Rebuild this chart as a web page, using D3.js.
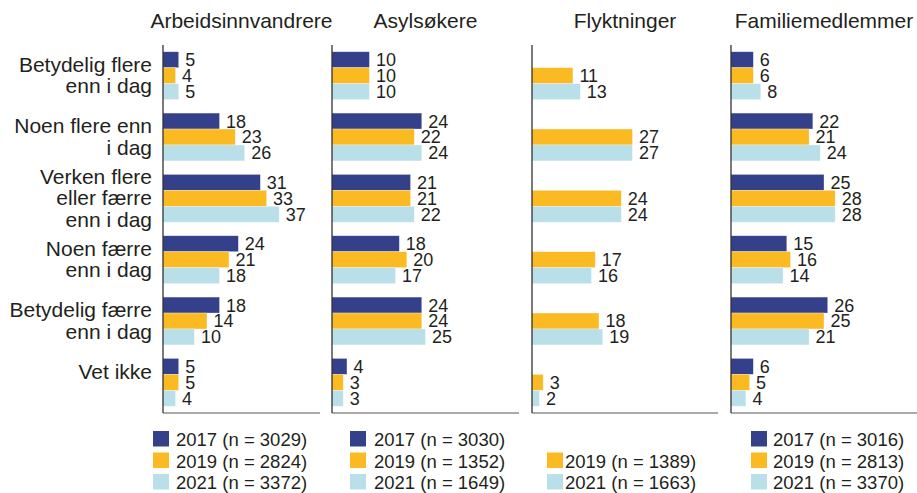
<!DOCTYPE html>
<html>
<head>
<meta charset="utf-8">
<script src="https://cdn.jsdelivr.net/npm/d3@7"></script>
<style>
  body { margin: 0; background: #fff; }
  text { font-family: "Liberation Sans", Arial, sans-serif; fill: #231f20; }
</style>
</head>
<body>
<script>
// Kategorier (svaralternativer), "\n" gir linjeskift
var categories = [
  "Betydelig flere\nenn i dag",
  "Noen flere enn\ni dag",
  "Verken flere\neller færre\nenn i dag",
  "Noen færre\nenn i dag",
  "Betydelig færre\nenn i dag",
  "Vet ikke\n"
];
var groups = ["Arbeidsinnvandrere", "Asylsøkere", "Flyktninger", "Familiemedlemmer"];
var years = ["2017", "2019", "2021"];
var colors = ["#34418a", "#fbba22", "#b9e0e9"];

// Prosentverdier per gruppe og år (null = ikke spurt)
var arbeid2017 = [5, 18, 31, 24, 18, 5];
var arbeid2019 = [4, 23, 33, 21, 14, 5];
var arbeid2021 = [5, 26, 37, 18, 10, 4];
var asyl2017 = [10, 24, 21, 18, 24, 4];
var asyl2019 = [10, 22, 21, 20, 24, 3];
var asyl2021 = [10, 24, 22, 17, 25, 3];
var flykt2017 = null;
var flykt2019 = [11, 27, 24, 17, 18, 3];
var flykt2021 = [13, 27, 24, 16, 19, 2];
var familie2017 = [6, 22, 25, 15, 26, 6];
var familie2019 = [6, 21, 28, 16, 25, 5];
var familie2021 = [8, 24, 28, 14, 21, 4];

// Antall respondenter til legendene
var nArbeid = [3029, 2824, 3372];
var nAsyl = [3030, 1352, 1649];
var nFlykt = [null, 1389, 1663];
var nFamilie = [3016, 2813, 3370];

var panels = [
  { title: groups[0], series: [arbeid2017, arbeid2019, arbeid2021], n: nArbeid, x0: 163, x1: 320, lx: 153, gap: 7 },
  { title: groups[1], series: [asyl2017, asyl2019, asyl2021], n: nAsyl, x0: 332, x1: 519, lx: 350, gap: 8 },
  { title: groups[2], series: [flykt2017, flykt2019, flykt2021], n: nFlykt, x0: 532, x1: 718, lx: 547, gap: 2 },
  { title: groups[3], series: [familie2017, familie2019, familie2021], n: nFamilie, x0: 731, x1: 917, lx: 751, gap: 6 }
];

var width = 917, height = 493;
var plotTop = 45, plotBottom = 413;

var svg = d3.select("body").append("svg")
  .attr("width", width)
  .attr("height", height);

// Skala for kategoriene (y) og årene innen hver kategori
var yScale = d3.scaleBand().domain(d3.range(categories.length))
  .range([plotTop, plotBottom]).paddingInner(0.22).paddingOuter(0.11);
var yInner = d3.scaleBand().domain(d3.range(years.length))
  .range([0, yScale.bandwidth()]);

// Kategoritekster til venstre
var lineH = 21.5;
categories.forEach((c, i) => {
  var lines = c.split("\n");
  var cy = yScale(i) + yScale.bandwidth() / 2;
  var t = svg.append("text")
    .attr("text-anchor", "end")
    .style("font-size", "21px");
  lines.forEach((l, j) => {
    t.append("tspan")
      .attr("x", 152)
      .attr("y", cy - (lines.length - 1) * lineH / 2 + j * lineH + 7)
      .text(l);
  });
});

panels.forEach(p => {
  var xScale = d3.scaleLinear().domain([0, 50]).range([p.x0, p.x1]);
  var g = svg.append("g");

  // Tittel
  g.append("text")
    .attr("x", (p.x0 + p.x1) / 2)
    .attr("y", 28)
    .attr("text-anchor", "middle")
    .style("font-size", "21px")
    .text(p.title);

  // Søylene
  p.series.forEach((vals, s) => {
    if (!vals) return;
    vals.forEach((v, i) => {
      var y = yScale(i) + yInner(s);
      g.append("rect")
        .attr("x", xScale(0))
        .attr("y", y)
        .attr("width", xScale(v) - xScale(0))
        .attr("height", yInner.bandwidth())
        .attr("fill", colors[s])
        .attr("stroke", "#ffffff")
        .attr("stroke-opacity", 0.5)
        .attr("stroke-width", 0.6);
      g.append("text")
        .attr("x", xScale(v) + 6.5)
        .attr("y", y + yInner.bandwidth() / 2)
        .attr("dy", "0.36em")
        .style("font-size", "18px")
        .text(v);
    });
  });

  // Akselinjer
  g.append("line")
    .attr("x1", xScale(0)).attr("x2", xScale(0))
    .attr("y1", plotTop).attr("y2", plotBottom)
    .attr("stroke", "#231f20").attr("stroke-width", 1.2);
  g.append("line")
    .attr("x1", xScale(0)).attr("x2", xScale(50))
    .attr("y1", plotBottom).attr("y2", plotBottom)
    .attr("stroke", "#555").attr("stroke-width", 1.2);

  // Legende
  years.forEach((yr, s) => {
    if (!p.series[s]) return;
    var ly = 431 + s * 21.5;
    g.append("rect")
      .attr("x", p.lx).attr("y", ly)
      .attr("width", 16).attr("height", 15.5)
      .attr("fill", colors[s]);
    g.append("text")
      .attr("x", p.lx + 16 + p.gap)
      .attr("y", ly + 15)
      .style("font-size", "18.5px")
      .text(yr + " (n = " + p.n[s] + ")");
  });
});
</script>
</body>
</html>
